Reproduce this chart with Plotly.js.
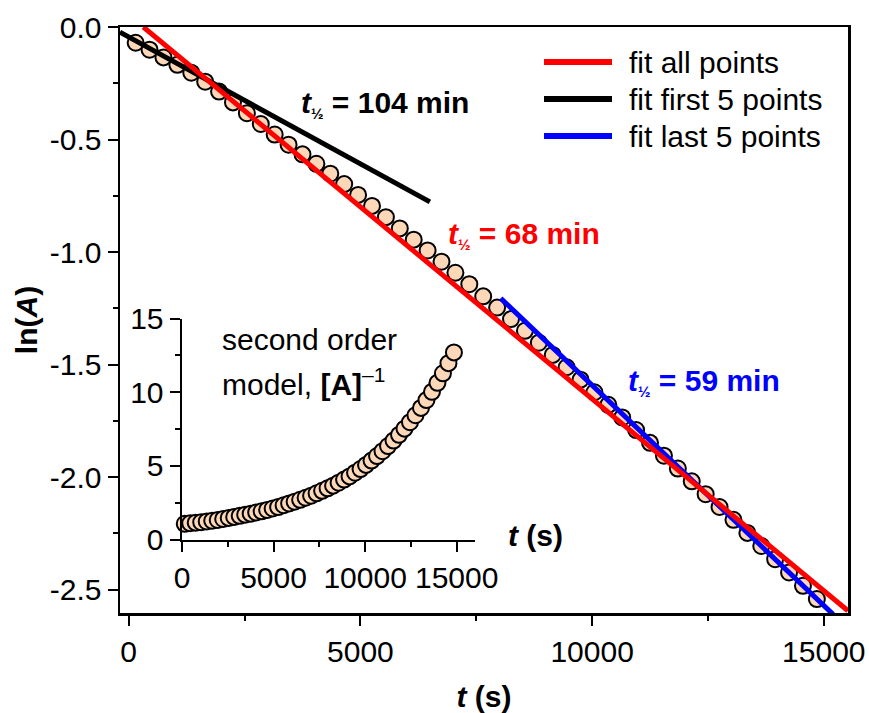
<!DOCTYPE html>
<html>
<head>
<meta charset="utf-8">
<script src="https://cdn.plot.ly/plotly-3.0.1.min.js"></script>
<style>html,body{margin:0;padding:0;background:#fff;}#plot{width:869px;height:713px;}</style>
</head>
<body>
<div id="plot"></div>
<script>
// time (s)
const tSec = [150, 450, 750, 1050, 1350, 1650, 1950, 2250, 2550, 2850,
  3150, 3450, 3750, 4050, 4350, 4650, 4950, 5250, 5550, 5850,
  6150, 6450, 6750, 7050, 7350, 7650, 7950, 8250, 8550, 8850,
  9150, 9450, 9750, 10050, 10350, 10650, 10950, 11250, 11550, 11850,
  12150, 12450, 12750, 13050, 13350, 13650, 13950, 14250, 14550, 14850];
// ln(A)
const lnA = [-0.070, -0.101, -0.135, -0.168, -0.203, -0.243, -0.287, -0.335, -0.383, -0.431,
  -0.478, -0.523, -0.566, -0.608, -0.652, -0.698, -0.746, -0.795, -0.845, -0.895,
  -0.945, -0.993, -1.043, -1.092, -1.143, -1.197, -1.247, -1.298, -1.350, -1.403,
  -1.457, -1.512, -1.567, -1.623, -1.679, -1.735, -1.791, -1.848, -1.905, -1.962,
  -2.019, -2.076, -2.133, -2.190, -2.248, -2.306, -2.365, -2.424, -2.483, -2.542];
// [A]^-1 (inset)
const invA = [1.07, 1.11, 1.15, 1.18, 1.23, 1.28, 1.33, 1.40, 1.47, 1.54,
  1.61, 1.69, 1.76, 1.84, 1.92, 2.01, 2.11, 2.21, 2.33, 2.45,
  2.57, 2.70, 2.84, 2.98, 3.14, 3.31, 3.48, 3.66, 3.86, 4.07,
  4.29, 4.54, 4.79, 5.07, 5.36, 5.67, 6.00, 6.35, 6.72, 7.11,
  7.53, 7.97, 8.44, 8.94, 9.47, 10.03, 10.64, 11.29, 11.98, 12.71];
// fit lines (end points)
const fitAllT = [315, 15520], fitAllY = [0, -2.594];
const fitFirstT = [-190, 6500], fitFirstY = [-0.023, -0.777];
const fitLastT = [8028, 15200], fitLastY = [-1.2055, -2.610];
// ticks
const yTickVals = [0, -0.5, -1, -1.5, -2, -2.5];
const yTickText = ['0.0', '-0.5', '-1.0', '-1.5', '-2.0', '-2.5'];
const xTickVals = [0, 5000, 10000, 15000];
const xTickText = ['0', '5000', '10000', '15000'];
const insetYTickVals = [0, 5, 10, 15];
const legendNames = ['fit all points', 'fit first 5 points', 'fit last 5 points'];
const legendColors = ['#ff0000', '#000000', '#0000ff'];

const FONT = 'Liberation Sans, Arial, sans-serif';
const FS = 30;
const markerStyle = {symbol: 'circle', size: 16, color: '#FDD8B8', line: {color: '#000', width: 2}};

const traces = [
  {x: tSec, y: lnA, type: 'scatter', mode: 'markers', marker: markerStyle, showlegend: false, xaxis: 'x', yaxis: 'y'},
  {x: fitFirstT, y: fitFirstY, type: 'scatter', mode: 'lines', line: {color: legendColors[1], width: 5}, name: legendNames[1], showlegend: false},
  {x: fitLastT, y: fitLastY, type: 'scatter', mode: 'lines', line: {color: legendColors[2], width: 5}, name: legendNames[2], showlegend: false},
  {x: fitAllT, y: fitAllY, type: 'scatter', mode: 'lines', line: {color: legendColors[0], width: 5}, name: legendNames[0], showlegend: false},
  {x: tSec, y: invA, type: 'scatter', mode: 'markers', marker: markerStyle, showlegend: false, xaxis: 'x2', yaxis: 'y2', cliponaxis: false}
];

const L = 120, R = 848, T = 27, B = 612.7;
const px = v => (v - L) / (R - L);
const py = v => (B - v) / (B - T);

const shapes = [];
const annotations = [];
const legY = [62, 99, 136];
for (let i = 0; i < 3; i++) {
  shapes.push({type: 'line', xref: 'paper', yref: 'paper', x0: px(544), x1: px(612), y0: py(legY[i]), y1: py(legY[i]), line: {color: legendColors[i], width: 6}});
  annotations.push({xref: 'paper', yref: 'paper', x: px(627), y: py(legY[i]), xanchor: 'left', yanchor: 'middle', text: legendNames[i], showarrow: false, font: {family: FONT, size: FS, color: '#000'}});
}
const half = '<sub><span style="font-size:15px">½</span></sub>';
annotations.push({xref: 'paper', yref: 'paper', x: px(299), y: py(104), xanchor: 'left', yanchor: 'middle', showarrow: false,
  text: '<b><i>t</i>' + half + ' = 104 min</b>', font: {family: FONT, size: FS, color: '#000'}});
annotations.push({xref: 'paper', yref: 'paper', x: px(446), y: py(235), xanchor: 'left', yanchor: 'middle', showarrow: false,
  text: '<b><i>t</i>' + half + ' = 68 min</b>', font: {family: FONT, size: FS, color: '#ff0000'}});
annotations.push({xref: 'paper', yref: 'paper', x: px(626), y: py(382), xanchor: 'left', yanchor: 'middle', showarrow: false,
  text: '<b><i>t</i>' + half + ' = 59 min</b>', font: {family: FONT, size: FS, color: '#0000ff'}});
annotations.push({xref: 'paper', yref: 'paper', x: px(220), y: py(339), xanchor: 'left', yanchor: 'middle', showarrow: false,
  text: 'second order', font: {family: FONT, size: FS, color: '#000'}});
annotations.push({xref: 'paper', yref: 'paper', x: px(220), y: py(382), xanchor: 'left', yanchor: 'middle', showarrow: false,
  text: 'model, <b>[A]</b><sup>\u20131</sup>', font: {family: FONT, size: FS, color: '#000'}});
annotations.push({xref: 'paper', yref: 'paper', x: px(506), y: py(535), xanchor: 'left', yanchor: 'middle', showarrow: false,
  text: '<b><i>t</i> (s)</b>', font: {family: FONT, size: FS, color: '#000'}});

const axisCommon = {
  showgrid: false, zeroline: false, showline: true, linecolor: '#000', linewidth: 2.5,
  ticks: 'outside', ticklen: 10, tickwidth: 2, tickcolor: '#000',
  tickfont: {family: FONT, size: FS, color: '#000'}
};

const layout = {
  width: 869, height: 713,
  margin: {l: L, r: 869 - R, t: T, b: 713 - B},
  paper_bgcolor: '#fff', plot_bgcolor: '#fff',
  showlegend: false,
  font: {family: FONT, size: FS, color: '#000'},
  xaxis: Object.assign({}, axisCommon, {
    range: [-188, 15522], tickmode: 'array', tickvals: xTickVals, ticktext: xTickText, mirror: true,
    minor: {tick0: 0, dtick: 2500, ticks: 'outside', ticklen: 5, tickwidth: 2, tickcolor: '#000', showgrid: false},
    title: {text: '<b><i>t</i> (s)</b>', font: {family: FONT, size: FS}, standoff: 20},
    domain: [0, 1], anchor: 'y'
  }),
  yaxis: Object.assign({}, axisCommon, {
    range: [-2.604, 0], tickmode: 'array', tickvals: yTickVals, ticktext: yTickText, mirror: true,
    minor: {tick0: 0, dtick: 0.25, ticks: 'outside', ticklen: 5, tickwidth: 2, tickcolor: '#000', showgrid: false},
    title: {text: '<b>ln(<i>A</i>)</b>', font: {family: FONT, size: FS}, standoff: 4},
    domain: [0, 1], anchor: 'x'
  }),
  xaxis2: Object.assign({}, axisCommon, {
    range: [0, 16000], tickmode: 'array', tickvals: xTickVals, ticktext: xTickText,
    minor: {tick0: 0, dtick: 2500, ticks: 'outside', ticklen: 5, tickwidth: 2, tickcolor: '#000', showgrid: false},
    domain: [px(182), px(475)], anchor: 'y2'
  }),
  yaxis2: Object.assign({}, axisCommon, {
    range: [0, 15], tickmode: 'array', tickvals: insetYTickVals,
    minor: {tick0: 0, dtick: 2.5, ticks: 'outside', ticklen: 5, tickwidth: 2, tickcolor: '#000', showgrid: false},
    domain: [py(539.3), py(318.5)], anchor: 'x2'
  }),
  shapes: shapes,
  annotations: annotations
};

Plotly.newPlot('plot', traces, layout, {displayModeBar: false, staticPlot: true});
</script>
</body>
</html>
